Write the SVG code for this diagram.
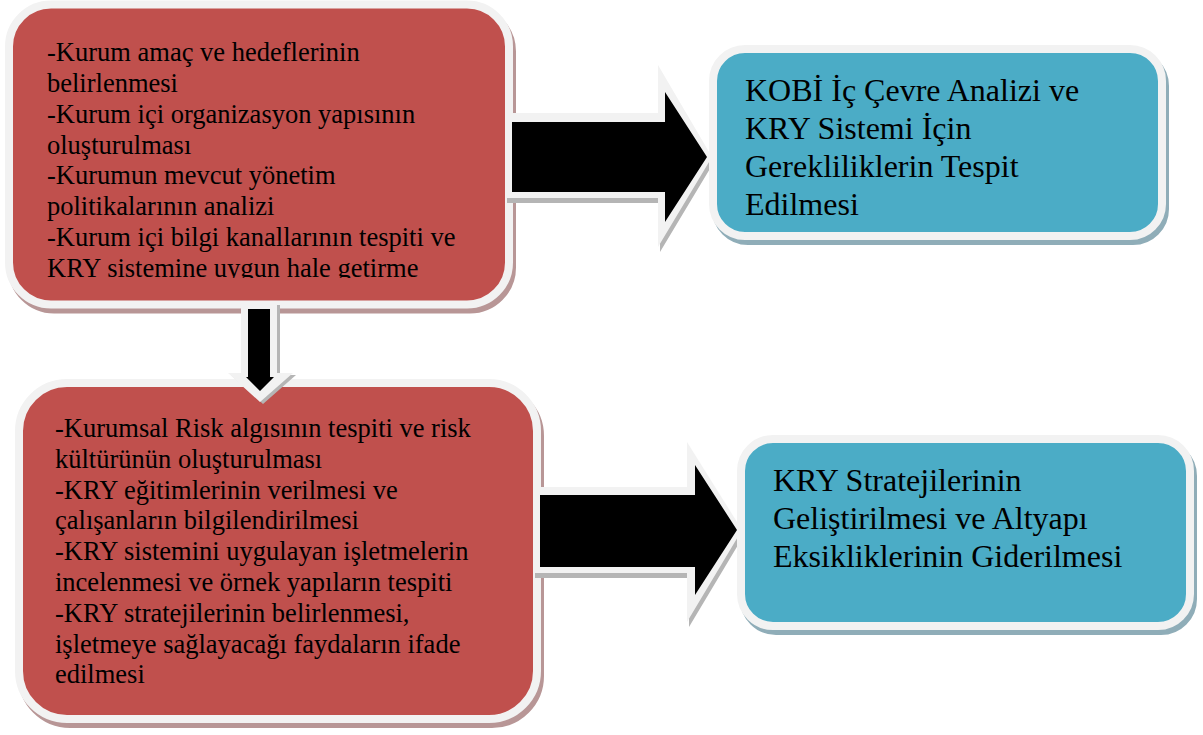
<svg xmlns="http://www.w3.org/2000/svg" width="1203" height="735" viewBox="0 0 1203 735">
<style>
.red{fill:#c0504d;stroke:#f2f2f2;stroke-width:8}
.blue{fill:#4bacc6;stroke:#f2f2f2;stroke-width:8}
.rsh{fill:#b89696;stroke:#b89696;stroke-width:8}
.bsh{fill:#8fadb8;stroke:#8fadb8;stroke-width:8}
.t{font-family:"Liberation Serif","Times New Roman",serif;fill:#000}
.s{font-size:26.5px}
.l{font-size:32px}
.ash{fill:#b5b5b5}
.aw{fill:#f2f2f2}
.ab{fill:#000}
</style>
<defs>
<clipPath id="clipTop"><rect x="0" y="0" width="520" height="278"/></clipPath>
</defs>
<rect width="1203" height="735" fill="#fff"/>

<g id="node-top-left">
<rect class="rsh" x="12" y="9.5" width="500" height="300" rx="42"/>
<rect class="red" x="9" y="4.5" width="500" height="300" rx="42"/>
<text class="t s" clip-path="url(#clipTop)">
<tspan x="47" y="61">-Kurum amaç ve hedeflerinin</tspan>
<tspan x="47" dy="30.85">belirlenmesi</tspan>
<tspan x="47" dy="30.85">-Kurum içi organizasyon yapısının</tspan>
<tspan x="47" dy="30.85">oluşturulması</tspan>
<tspan x="47" dy="30.85">-Kurumun mevcut yönetim</tspan>
<tspan x="47" dy="30.85">politikalarının analizi</tspan>
<tspan x="47" dy="30.85">-Kurum içi bilgi kanallarının tespiti ve</tspan>
<tspan x="47" dy="30.85">KRY sistemine uygun hale getirme</tspan>
</text>
</g>

<g id="node-bottom-left">
<rect class="rsh" x="22" y="388" width="518" height="336" rx="48"/>
<rect class="red" x="19" y="383" width="518" height="336" rx="48"/>
<text class="t s">
<tspan x="55" y="437">-Kurumsal Risk algısının tespiti ve risk</tspan>
<tspan x="55" dy="30.8">kültürünün oluşturulması</tspan>
<tspan x="55" dy="30.8">-KRY eğitimlerinin verilmesi ve</tspan>
<tspan x="55" dy="30.8">çalışanların bilgilendirilmesi</tspan>
<tspan x="55" dy="30.8">-KRY sistemini uygulayan işletmelerin</tspan>
<tspan x="55" dy="30.8">incelenmesi ve örnek yapıların tespiti</tspan>
<tspan x="55" dy="30.8">-KRY stratejilerinin belirlenmesi,</tspan>
<tspan x="55" dy="30.8">işletmeye sağlayacağı faydaların ifade</tspan>
<tspan x="55" dy="30.8">edilmesi</tspan>
</text>
</g>

<g id="connectors">
<g id="arrow-top-right">
<polygon class="ash" points="507,118 660,118 660,70 714,162 660,252 660,203 507,203"/>
<polygon class="aw" points="505,113 658,113 658,65 712,157 658,247 658,198 505,198"/>
<polygon class="ab" points="512,122 665,122 665,92 707,157 665,222 665,192 512,192"/>
</g>
<g id="arrow-down">
<polygon class="ash" points="244,305 280,305 280,375 296,375 263,404 231,375 244,375"/>
<polygon class="aw" points="241,303 277,303 277,373 293,373 260,402 228,373 241,373"/>
<polygon class="ab" points="248,309 270,309 270,377 274,377 260,391 246,377 248,377"/>
</g>
<g id="arrow-bottom-right">
<polygon class="ash" points="535,492 689,492 689,447 744,535 689,627 689,578 535,578"/>
<polygon class="aw" points="533,487 687,487 687,442 742,530 687,622 687,573 533,573"/>
<polygon class="ab" points="540,495 695,495 695,465 737,530 695,595 695,567 540,567"/>
</g>
</g>

<g id="node-top-right">
<rect class="bsh" x="716" y="54" width="449" height="187" rx="32"/>
<rect class="blue" x="713" y="49" width="449" height="187" rx="32"/>
<text class="t l">
<tspan x="745" y="101">KOBİ İç Çevre Analizi ve</tspan>
<tspan x="745" dy="38">KRY Sistemi İçin</tspan>
<tspan x="745" dy="38">Gerekliliklerin Tespit</tspan>
<tspan x="745" dy="38">Edilmesi</tspan>
</text>
</g>

<g id="node-bottom-right">
<rect class="bsh" x="744" y="444" width="449" height="187" rx="32"/>
<rect class="blue" x="741" y="439" width="449" height="187" rx="32"/>
<text class="t l">
<tspan x="773" y="491">KRY Stratejilerinin</tspan>
<tspan x="773" dy="38">Geliştirilmesi ve Altyapı</tspan>
<tspan x="773" dy="38">Eksikliklerinin Giderilmesi</tspan>
</text>
</g>
</svg>
